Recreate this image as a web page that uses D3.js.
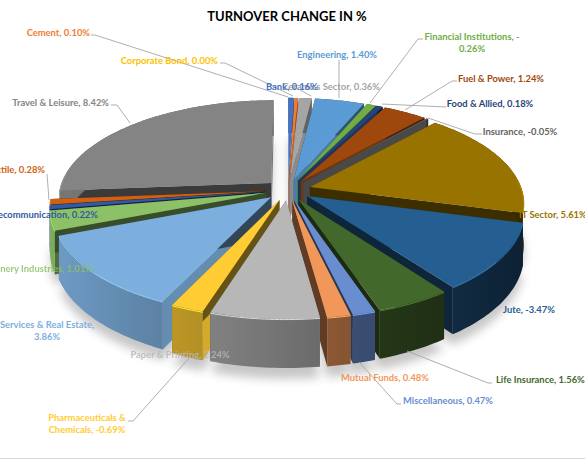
<!DOCTYPE html>
<html>
<head>
<meta charset="utf-8">
<style>
    html, body { margin: 0; padding: 0; background: #fff; }
    svg { display: block; }
    text { font-family: Lato, "Noto Sans", sans-serif; font-weight: 700; }
</style>
</head>
<body>
<script src="https://cdn.jsdelivr.net/npm/d3@7/dist/d3.min.js"></script>
<script>

    var sectors = ["Bank", "Cement", "Ceramics Sector", "Corporate Bond", "Engineering",
        "Financial Institutions", "Food & Allied", "Fuel & Power", "Insurance", "IT Sector",
        "Jute", "Life Insurance", "Miscellaneous", "Mutual Funds", "Paper & Printing",
        "Pharmaceuticals & Chemicals", "Services & Real Estate", "Tannery Industries",
        "Telecommunication", "Textile", "Travel & Leisure"];

    var changes = [0.16, 0.10, 0.36, 0.00, 1.40, -0.26, 0.18, 1.24, -0.05, 5.61, -3.47,
        1.56, 0.47, 0.48, 2.24, -0.69, 3.86, 1.01, 0.22, 0.28, 8.42];

    var colors = ["#4472c4", "#ed7d31", "#a5a5a5", "#ffc000", "#5b9bd5", "#70ad47", "#264478",
        "#9e480e", "#636363", "#997300", "#255e91", "#43682b", "#698ed0", "#f1975a", "#b7b7b7",
        "#ffcd33", "#7cafdd", "#8cc168", "#335aa1", "#d26012", "#848484"];

    // label boxes: x, baseline y, anchor, where to wrap
    var labelPlaces = {
        "Ceramics Sector": [380, 90, "end"],
        "Bank": [266, 90, "start"],
        "Cement": [90, 36, "end"],
        "Corporate Bond": [218, 64, "end"],
        "Engineering": [337, 58, "middle"],
        "Financial Institutions": [472, 40, "middle", 25],
        "Food & Allied": [490, 107, "middle"],
        "Fuel & Power": [501, 82, "middle"],
        "Insurance": [520, 135, "middle"],
        "IT Sector": [519, 218, "start"],
        "Jute": [529, 313, "middle"],
        "Life Insurance": [496, 383, "start"],
        "Miscellaneous": [448, 404, "middle"],
        "Mutual Funds": [385, 381, "middle"],
        "Paper & Printing": [180, 358, "middle"],
        "Pharmaceuticals & Chemicals": [87, 421, "middle", 17],
        "Services & Real Estate": [47, 328, "middle", 23],
        "Tannery Industries": [93, 272, "end"],
        "Telecommunication": [98, 218, "end"],
        "Textile": [45, 173, "end"],
        "Travel & Leisure": [109, 106, "end"]
    };

    var leaders = [
        [[91, 35], [95, 35], [288, 97]],
        [[220, 63], [225, 63], [293, 96]],
        [[300, 90], [311, 96]],
        [[339, 60], [339, 98]],
        [[423, 39], [418, 39], [370, 103]],
        [[457, 81], [452, 81], [405, 110]],
        [[446, 107], [382, 104]],
        [[482, 134], [475, 134], [428, 118]],
        [[111, 105], [117, 105], [130, 123]],
        [[47, 174], [49, 200]],
        [[128, 421], [133, 421], [190, 357]],
        [[492, 383], [488, 383], [407, 351]],
        [[401, 404], [397, 404], [359, 362]]
    ];

    var width = 585, height = 460;
    var explode = 0.108, tilt = 0.15, depth = 41;

    var x = d3.scaleLinear().domain([-1, 1]).range([288 - 212, 288 + 212]);
    var y = d3.scaleLinear().domain([-1, 1]).range([190 - 97, 190 + 97]);

    function project(px, py, z) {
        var s = 1 / (1 - tilt * py);
        return [288 + (x(px) - 288) * s, 190 + (y(py) - 190 + depth * z) * s];
    }

    function rimPoint(d, a, z) {
        var mid = (d.startAngle + d.endAngle) / 2;
        return project(Math.sin(a) + explode * Math.sin(mid),
            -Math.cos(a) - explode * Math.cos(mid), z);
    }

    function tipPoint(d, z) {
        var mid = (d.startAngle + d.endAngle) / 2;
        return project(explode * Math.sin(mid), -explode * Math.cos(mid), z);
    }

    function arcAngles(d) {
        var n = Math.max(2, Math.ceil((d.endAngle - d.startAngle) / 0.02));
        return d3.range(n + 1).map(function (i) {
            return d.startAngle + (d.endAngle - d.startAngle) * i / n;
        });
    }

    function shade(color, f) {
        var c = d3.rgb(color);
        return d3.rgb(c.r * f, c.g * f, c.b * f).formatHex();
    }

    function rimShade(a) { return 0.62 - 0.28 * Math.sin(a); }
    function wallShade(n) { return 0.4 + 0.45 * Math.max(0, Math.sin(n)); }

    var pie = d3.pie().sort(null).value(function (d) { return Math.abs(d); });
    var slices = pie(changes);
    slices.forEach(function (d, i) { d.name = sectors[i]; d.color = colors[i]; d.i = i; });

    var line = d3.line();

    var svg = d3.select("body").append("svg")
        .attr("width", width)
        .attr("height", height);

    var defs = svg.append("defs");
    defs.append("filter").attr("id", "soft")
        .attr("x", "-20%").attr("y", "-20%").attr("width", "140%").attr("height", "140%")
        .append("feGaussianBlur").attr("stdDeviation", 5);

    svg.append("rect").attr("width", width).attr("height", height).attr("fill", "#fff");

    svg.append("line")
        .attr("x1", 0).attr("x2", width).attr("y1", 458.5).attr("y2", 458.5)
        .attr("stroke", "#d9d9d9");

    // soft shadow below the pie
    svg.append("g").attr("filter", "url(#soft)").attr("opacity", 0.3)
        .selectAll("path").data(slices).enter().append("path")
        .attr("fill", "#444")
        .attr("d", function (d) {
            var pts = arcAngles(d).map(function (a) { return rimPoint(d, a, 1.22); });
            pts.push(tipPoint(d, 1.22));
            return line(pts) + "Z";
        });

    // back to front
    var order = slices.slice().sort(function (a, b) {
        return Math.cos((b.startAngle + b.endAngle) / 2) - Math.cos((a.startAngle + a.endAngle) / 2);
    }).filter(function (d) { return d.endAngle > d.startAngle; });

    var pieG = svg.append("g");

    order.forEach(function (d) {
        var g = pieG.append("g");
        var angles = arcAngles(d);

        // radial walls
        [[d.startAngle, d.startAngle - Math.PI / 2], [d.endAngle, d.endAngle + Math.PI / 2]].forEach(function (w) {
            g.append("path")
                .attr("fill", shade(d.color, wallShade(w[1])))
                .attr("d", line([tipPoint(d, 0), rimPoint(d, w[0], 0), rimPoint(d, w[0], 1), tipPoint(d, 1)]) + "Z");
        });

        // outer wall
        var p0 = rimPoint(d, d.startAngle, 0), p1 = rimPoint(d, d.endAngle, 0);
        var gradId = "rim" + d.i;
        var grad = defs.append("linearGradient").attr("id", gradId)
            .attr("gradientUnits", "userSpaceOnUse")
            .attr("x1", p0[0]).attr("y1", 0).attr("x2", p1[0] === p0[0] ? p0[0] + 1 : p1[0]).attr("y2", 0);
        grad.append("stop").attr("offset", 0).attr("stop-color", shade(d.color, rimShade(d.startAngle)));
        grad.append("stop").attr("offset", 1).attr("stop-color", shade(d.color, rimShade(d.endAngle)));

        var rim = angles.map(function (a) { return rimPoint(d, a, 0); })
            .concat(angles.slice().reverse().map(function (a) { return rimPoint(d, a, 1); }));
        g.append("path").attr("fill", "url(#" + gradId + ")").attr("d", line(rim) + "Z");

        // top face
        var top = angles.map(function (a) { return rimPoint(d, a, 0); });
        top.push(tipPoint(d, 0));
        g.append("path").attr("fill", d.color).attr("d", line(top) + "Z");

        // thin light edge on the front part of the rim
        var front = angles.filter(function (a) { return Math.cos(a) < 0.1; });
        if (front.length > 1) {
            g.append("path")
                .attr("fill", "none")
                .attr("stroke", d3.rgb(d.color).brighter(0.5).formatHex())
                .attr("stroke-width", 1)
                .attr("d", line(front.map(function (a) { return rimPoint(d, a, 0.015); })));
        }
    });

    svg.append("g").selectAll("path").data(leaders).enter().append("path")
        .attr("fill", "none")
        .attr("stroke", "#a6a6a6")
        .attr("stroke-width", 0.9)
        .attr("d", function (d) { return line(d); });

    svg.append("text")
        .attr("x", 287)
        .attr("y", 21)
        .attr("text-anchor", "middle")
        .attr("font-size", 13)
        .attr("fill", "#000")
        .text("TURNOVER CHANGE IN %");

    var labelOrder = Object.keys(labelPlaces);
    labelOrder.forEach(function (name) {
        var i = sectors.indexOf(name);
        var place = labelPlaces[name];
        var full = name + ", " + changes[i].toFixed(2) + "%";
        var rows = place[3] ? [full.slice(0, place[3]).trim(), full.slice(place[3]).trim()] : [full];
        var t = svg.append("text")
            .attr("text-anchor", place[2])
            .attr("font-size", 9.4)
            .attr("fill", colors[i])
            .attr("opacity", name === "Paper & Printing" || name === "Tannery Industries" ? 0.85 : 1);
        rows.forEach(function (r, k) {
            t.append("tspan").attr("x", place[0]).attr("y", place[1] + k * 12).text(r);
        });
    });

</script>
</body>
</html>
